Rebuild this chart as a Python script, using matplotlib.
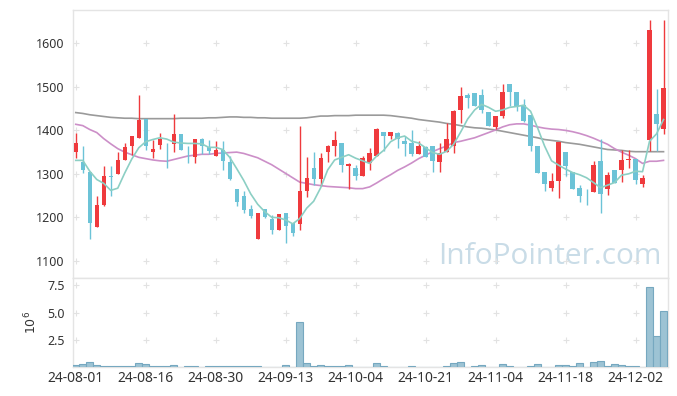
import numpy as np
import matplotlib.pyplot as plt

plt.rcParams['font.family'] = ['Noto Sans', 'DejaVu Sans']

# ======================== data ========================
tick_pos = [0, 10, 20, 30, 40, 50, 60, 70, 80]
tick_labels = ['24-08-01', '24-08-16', '24-08-30', '24-09-13', '24-10-04',
               '24-10-21', '24-11-04', '24-11-18', '24-12-02']

opens = [1350, 1328, 1305, 1177, 1228, 1294, 1300, 1331, 1364, 1383,
         1427, 1350, 1366, 1371, 1369, 1391, 1356, 1339, 1381, 1362,
         1341, 1355, 1328, 1265, 1248, 1218, 1150, 1219, 1195, 1171,
         1210, 1188, 1185, 1260, 1314, 1289, 1350, 1364, 1371, 1318,
         1314, 1295, 1324, 1341, 1396, 1387, 1395, 1375, 1370, 1346,
         1362, 1364, 1327, 1350, 1364, 1446, 1481, 1487, 1481, 1443,
         1408, 1433, 1506, 1489, 1458, 1435, 1364, 1304, 1268, 1283,
         1351, 1305, 1268, 1249, 1258, 1329, 1264, 1308, 1310, 1331,
         1335, 1277, 1378, 1437, 1404]
highs = [1395, 1365, 1305, 1248, 1319, 1319, 1350, 1370, 1388, 1481,
         1427, 1379, 1395, 1372, 1438, 1391, 1364, 1381, 1383, 1379,
         1375, 1375, 1341, 1265, 1260, 1229, 1210, 1219, 1206, 1208,
         1210, 1188, 1410, 1339, 1350, 1348, 1367, 1399, 1371, 1324,
         1321, 1341, 1360, 1406, 1396, 1396, 1396, 1387, 1402, 1375,
         1365, 1364, 1370, 1418, 1448, 1500, 1485, 1487, 1495, 1443,
         1433, 1506, 1506, 1489, 1473, 1435, 1365, 1304, 1302, 1374,
         1351, 1305, 1275, 1265, 1329, 1381, 1304, 1308, 1356, 1356,
         1335, 1297, 1654, 1496, 1654]
lows = [1337, 1302, 1150, 1177, 1227, 1248, 1300, 1331, 1344, 1383,
        1354, 1337, 1358, 1314, 1350, 1354, 1325, 1325, 1345, 1345,
        1341, 1310, 1287, 1227, 1210, 1198, 1150, 1198, 1161, 1171,
        1141, 1156, 1171, 1247, 1275, 1271, 1328, 1341, 1304, 1264,
        1287, 1295, 1308, 1341, 1352, 1381, 1360, 1341, 1341, 1346,
        1339, 1305, 1305, 1350, 1347, 1418, 1452, 1455, 1441, 1410,
        1404, 1429, 1456, 1445, 1419, 1352, 1302, 1260, 1260, 1245,
        1296, 1265, 1235, 1229, 1258, 1210, 1252, 1278, 1281, 1314,
        1277, 1270, 1352, 1352, 1392]
closes = [1371, 1308, 1186, 1229, 1294, 1292, 1333, 1361, 1388, 1425,
          1364, 1358, 1381, 1370, 1391, 1355, 1354, 1381, 1364, 1352,
          1355, 1329, 1289, 1235, 1216, 1202, 1210, 1201, 1171, 1208,
          1179, 1164, 1261, 1291, 1289, 1337, 1365, 1377, 1320, 1322,
          1295, 1337, 1347, 1404, 1387, 1396, 1381, 1368, 1345, 1365,
          1339, 1329, 1348, 1381, 1445, 1479, 1475, 1455, 1446, 1410,
          1433, 1489, 1488, 1456, 1421, 1364, 1302, 1277, 1283, 1374,
          1318, 1265, 1248, 1248, 1321, 1254, 1298, 1278, 1333, 1335,
          1287, 1291, 1631, 1415, 1498]

ma_short = [1331, 1331, 1306, 1287, 1278, 1262, 1267, 1302, 1334, 1360,
            1374, 1379, 1383, 1380, 1373, 1371, 1370, 1370, 1369, 1361,
            1361, 1356, 1338, 1312, 1285, 1254, 1230, 1213, 1200, 1199,
            1194, 1185, 1197, 1221, 1237, 1268, 1309, 1332, 1338, 1344,
            1336, 1330, 1324, 1341, 1354, 1374, 1383, 1387, 1375, 1371,
            1360, 1349, 1345, 1352, 1368, 1396, 1426, 1447, 1460, 1453,
            1444, 1447, 1453, 1455, 1458, 1444, 1406, 1364, 1330, 1320,
            1311, 1303, 1298, 1291, 1280, 1268, 1274, 1280, 1297, 1300,
            1306, 1305, 1375, 1392, 1425]
ma_mid = [1414, 1411, 1402, 1395, 1381, 1369, 1358, 1350, 1344, 1338,
          1335, 1332, 1330, 1329, 1333, 1337, 1341, 1343, 1345, 1345,
          1347, 1348, 1349, 1350, 1347, 1342, 1337, 1329, 1321, 1311,
          1301, 1291, 1281, 1278, 1275, 1273, 1271, 1270, 1269, 1268,
          1266, 1266, 1270, 1279, 1289, 1298, 1308, 1316, 1325, 1335,
          1343, 1351, 1358, 1364, 1372, 1375, 1379, 1383, 1389, 1395,
          1401, 1408, 1413, 1415, 1415, 1412, 1408, 1405, 1403, 1402,
          1400, 1397, 1393, 1388, 1382, 1375, 1368, 1358, 1350, 1343,
          1335, 1324, 1329, 1329, 1331]
ma_long = [1441, 1439, 1436, 1434, 1432, 1430, 1429, 1428, 1428, 1427,
           1427, 1427, 1427, 1427, 1427, 1428, 1428, 1428, 1428, 1429,
           1429, 1430, 1431, 1431, 1430, 1430, 1429, 1429, 1428, 1428,
           1428, 1428, 1428, 1429, 1431, 1433, 1433, 1434, 1434, 1434,
           1435, 1435, 1435, 1435, 1435, 1434, 1432, 1430, 1428, 1425,
           1423, 1421, 1419, 1416, 1414, 1411, 1408, 1406, 1405, 1403,
           1401, 1398, 1395, 1392, 1389, 1386, 1383, 1379, 1377, 1375,
           1372, 1370, 1368, 1365, 1362, 1359, 1356, 1355, 1354, 1352,
           1351, 1351, 1351, 1351, 1351]

volume = [0.18, 0.27, 0.46, 0.18, 0.09, 0.15, 0.09, 0.09, 0.15, 0.37,
          0.30, 0.09, 0.09, 0.09, 0.20, 0.02, 0.09, 0.09, 0.02, 0.09,
          0.09, 0.09, 0.09, 0.09, 0.09, 0.09, 0.09, 0.03, 0.05, 0.02,
          0.24, 0.06, 4.15, 0.43, 0.15, 0.24, 0.15, 0.15, 0.15, 0.24,
          0.06, 0.06, 0.06, 0.43, 0.15, 0.06, 0.06, 0.06, 0.15, 0.02,
          0.02, 0.06, 0.06, 0.15, 0.43, 0.50, 0.06, 0.15, 0.24, 0.06,
          0.06, 0.30, 0.15, 0.06, 0.06, 0.15, 0.30, 0.06, 0.06, 0.21,
          0.21, 0.15, 0.40, 0.06, 0.49, 0.58, 0.15, 0.30, 0.21, 0.15,
          0.15, 0.06, 7.38, 2.87, 5.19]

UP = '#ef3a3d'
DOWN = '#6cc3d7'
GRID = '#e2e2e2'
SPINE = '#e4e4e4'

# ======================== figure ========================
fig = plt.figure(figsize=(6.77, 3.96), dpi=100)
ax = fig.add_axes([0.1078, 0.2987, 0.8785, 0.676])
axv = fig.add_axes([0.1078, 0.0725, 0.8785, 0.2247])

x = np.arange(len(closes))
o = np.array(opens); c = np.array(closes)
h = np.array(highs); l = np.array(lows)
up = c >= o
cols = np.where(up, UP, DOWN)

# wicks + bodies
ax.vlines(x, l, h, colors=cols, linewidth=1.0, zorder=3)
body_lo = np.minimum(o, c)
body_h = np.maximum(np.abs(c - o), 1.2)
ax.bar(x, body_h, bottom=body_lo, width=0.62, color=cols, linewidth=0, zorder=4)

# moving averages
ax.plot(x, ma_long, color='#9a9a9a', linewidth=1.2, zorder=2)
ax.plot(x, ma_mid, color='#cc8fc8', linewidth=1.2, zorder=2)
ax.plot(x, ma_short, color='#8ccfc4', linewidth=1.2, zorder=5)

ax.set_xlim(-0.4, 84.6)
ax.set_ylim(1061, 1677)
ax.set_yticks([1100, 1200, 1300, 1400, 1500, 1600])
ax.set_xticks(tick_pos)
ax.tick_params(axis='x', labelbottom=False, length=0)
ax.tick_params(axis='y', length=0, labelsize=9, colors='#333333', pad=6)

# grid crosses
gx, gy = np.meshgrid(tick_pos, [1100, 1200, 1300, 1400, 1500, 1600])
ax.plot(gx.ravel(), gy.ravel(), '+', color=GRID, ms=4, mew=0.8, zorder=1)

ax.text(0.802, 0.08, 'InfoPointer.com', transform=ax.transAxes, ha='center',
        va='center', fontsize=21.5, color='#c9dce7', family='Open Sans', zorder=0)

# ======================== volume ========================
axv.bar(x, volume, width=0.95, color='#9dc3d4', edgecolor='#76a8c0', linewidth=0.8, zorder=3)
axv.set_xlim(-0.4, 84.6)
axv.set_ylim(0, 8.15)
axv.set_yticks([2.5, 5.0, 7.5])
axv.set_xticks(tick_pos)
axv.set_xticklabels(tick_labels)
axv.tick_params(axis='both', length=0, colors='#333333')
axv.tick_params(axis='y', pad=6, labelsize=9)
axv.tick_params(axis='x', pad=3, labelsize=10)
axv.set_ylabel(r'$10^6$', fontsize=9, color='#333333', labelpad=6)
vx, vy = np.meshgrid(tick_pos, [2.5, 5.0, 7.5])
axv.plot(vx.ravel(), vy.ravel(), '+', color=GRID, ms=4, mew=0.8, zorder=1)

for a in (ax, axv):
    for s in a.spines.values():
        s.set_color(SPINE)
        s.set_linewidth(1.0)

plt.savefig('out.png', dpi=100)
plt.close()
